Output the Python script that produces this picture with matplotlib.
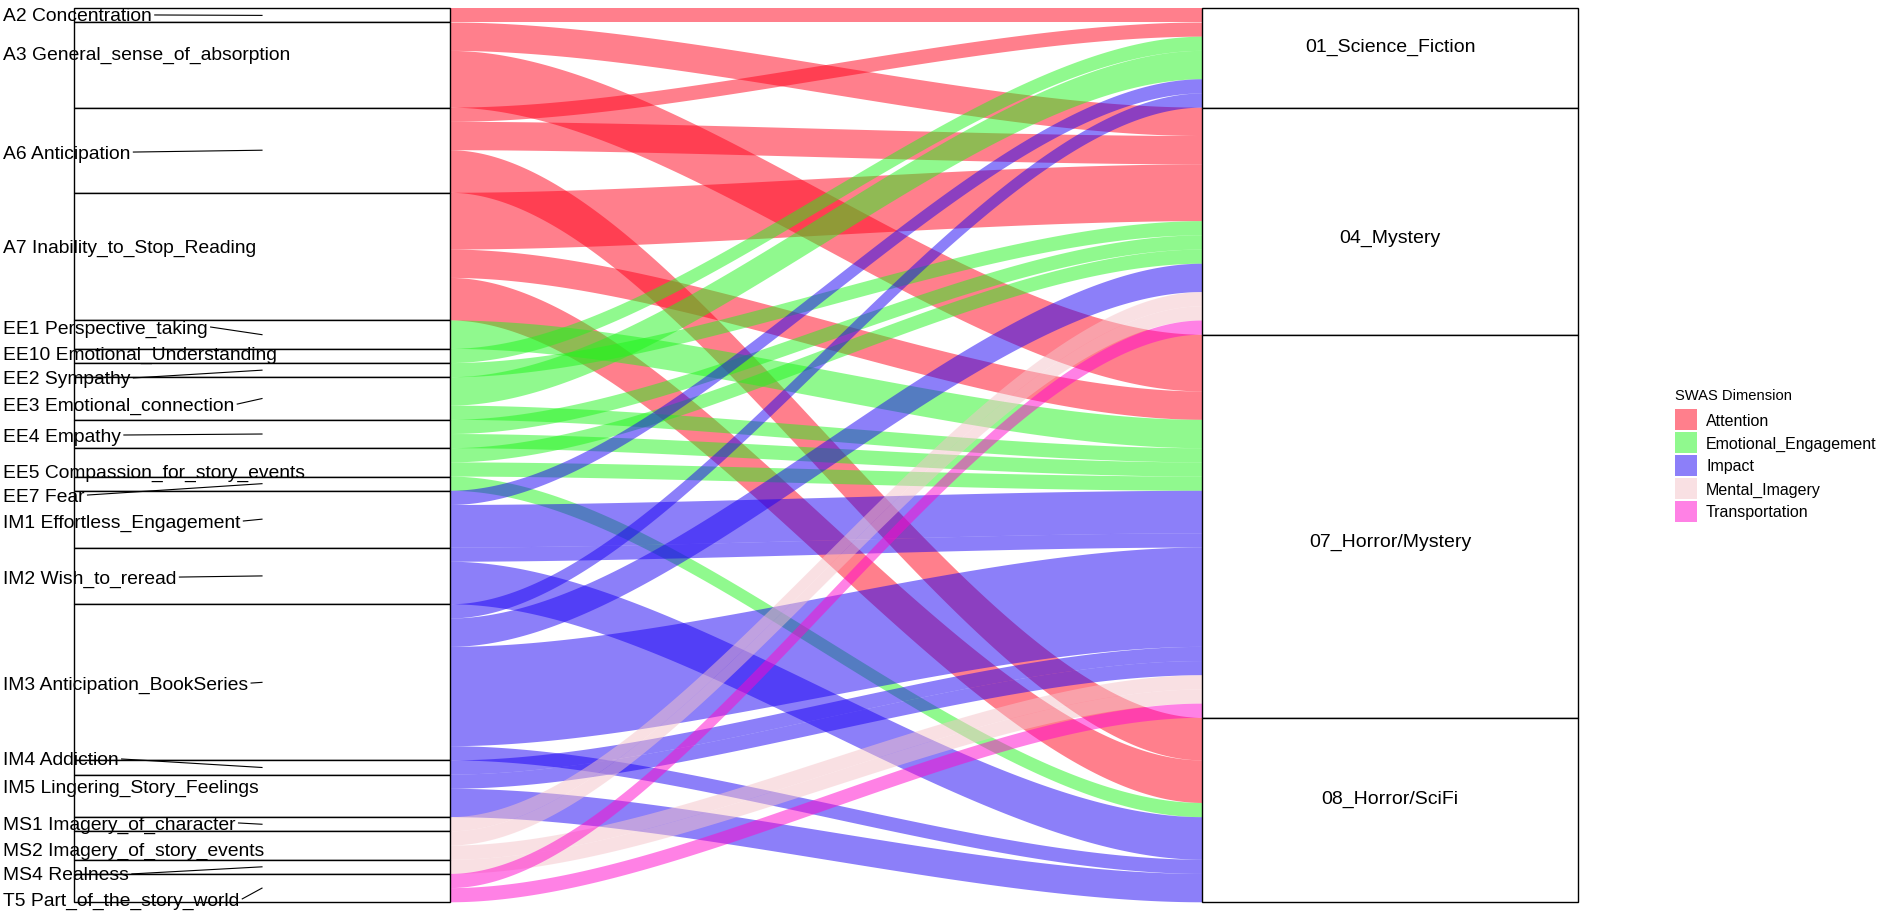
import matplotlib
matplotlib.use("Agg")
import matplotlib.pyplot as plt
import numpy as np
from matplotlib.patches import Rectangle, Polygon

plt.rcParams['font.family'] = ['Liberation Sans', 'DejaVu Sans']

# SWAS items (left axis) and genres (right axis)
items = ["A2 Concentration", "A3 General_sense_of_absorption", "A6 Anticipation",
         "A7 Inability_to_Stop_Reading", "EE1 Perspective_taking", "EE10 Emotional_Understanding",
         "EE2 Sympathy", "EE3 Emotional_connection", "EE4 Empathy",
         "EE5 Compassion_for_story_events", "EE7 Fear", "IM1 Effortless_Engagement",
         "IM2 Wish_to_reread", "IM3 Anticipation_BookSeries", "IM4 Addiction",
         "IM5 Lingering_Story_Feelings", "MS1 Imagery_of_character", "MS2 Imagery_of_story_events",
         "MS4 Realness", "T5 Part_of_the_story_world"]
item_dim = ["Attention"] * 4 + ["Emotional_Engagement"] * 7 + ["Impact"] * 5 + \
           ["Mental_Imagery"] * 3 + ["Transportation"]
genres = ["01_Science_Fiction", "04_Mystery", "07_Horror/Mystery", "08_Horror/SciFi"]

# counts item -> genre
sci_fi = [1, 0, 1, 0, 0, 1, 0, 2, 0, 0, 0, 1, 0, 1, 0, 0, 0, 0, 0, 0]
mystery = [0, 2, 2, 4, 0, 0, 1, 0, 1, 1, 0, 0, 0, 2, 0, 0, 1, 1, 0, 1]
horror_mystery = [0, 4, 0, 2, 2, 0, 0, 1, 1, 1, 0, 3, 1, 7, 1, 1, 0, 1, 1, 1]
horror_scifi = [0, 0, 3, 3, 0, 0, 0, 0, 0, 0, 1, 0, 3, 1, 0, 2, 0, 0, 0, 0]

dimensions = ["Attention", "Emotional_Engagement", "Impact", "Mental_Imagery", "Transportation"]
dim_colors = ["#FF001A", "#22F51E", "#1A00F5", "#F5C3C9", "#FF05CD"]
alpha = 0.5

# label positions (as placed by the repel step in the original)
label_y = [62.53, 59.85, 52.87, 46.25, 40.54, 38.71, 36.95, 35.11, 32.93, 30.39, 28.70,
           26.87, 22.92, 15.45, 10.10, 8.19, 5.59, 3.76, 2.00, 0.24]
genre_label_y = [60.36, 46.90, 25.49, 7.38]

counts = np.array([sci_fi, mystery, horror_mystery, horror_scifi]).T  # items x genres
n_items, n_gen = counts.shape
total = counts.sum()
col = dict(zip(dimensions, dim_colors))

W, H = 1882, 917
fig = plt.figure(figsize=(W / 100, H / 100), dpi=100)
ax = fig.add_axes([0, 0, 1, 1])
ax.axis("off")
px_x = 1128.0
px_y = 894.0 / total
ax.set_xlim(1 - 262 / px_x, 1 + (W - 262) / px_x)
ax.set_ylim(-(H - 902.3) / px_y, total + 8.3 / px_y)

w = 1 / 3
x0, x1 = 1 + w / 2, 2 - w / 2

# left lodes: stacked from top, within item by genre
item_tot = counts.sum(axis=1)
item_top = total - np.concatenate([[0], np.cumsum(item_tot)[:-1]])
left_top = np.zeros_like(counts, dtype=float)
for i in range(n_items):
    y = item_top[i]
    for g in range(n_gen):
        left_top[i, g] = y
        y -= counts[i, g]
# right lodes: within genre by item
gen_tot = counts.sum(axis=0)
gen_top = total - np.concatenate([[0], np.cumsum(gen_tot)[:-1]])
right_top = np.zeros_like(counts, dtype=float)
for g in range(n_gen):
    y = gen_top[g]
    for i in range(n_items):
        right_top[i, g] = y
        y -= counts[i, g]

# flow curve (cubic bezier with flat ends)
t = np.linspace(0, 1, 200)
h = 0.3
L = x1 - x0
bx = x0 + 3 * h * L * t * (1 - t) ** 2 + 3 * (L - h * L) * t ** 2 * (1 - t) + L * t ** 3
bs = 3 * t ** 2 - 2 * t ** 3

for i in range(n_items):
    for g in range(n_gen):
        c = counts[i, g]
        if c == 0:
            continue
        yt = left_top[i, g] + (right_top[i, g] - left_top[i, g]) * bs
        yb = yt - c
        verts = np.vstack([np.column_stack([bx, yt]), np.column_stack([bx[::-1], yb[::-1]])])
        ax.add_patch(Polygon(verts, closed=True, facecolor=col[item_dim[i]], alpha=alpha,
                             edgecolor="none", lw=0))

# strata boxes
for i in range(n_items):
    ax.add_patch(Rectangle((1 - w / 2, item_top[i] - item_tot[i]), w, item_tot[i],
                           facecolor="white", edgecolor="black", lw=1))
for g in range(n_gen):
    ax.add_patch(Rectangle((2 - w / 2, gen_top[g] - gen_tot[g]), w, gen_tot[g],
                           facecolor="white", edgecolor="black", lw=1))
    ax.text(2, genre_label_y[g], genres[g], ha="center", va="center_baseline", fontsize=14)

# item labels with leader segments (short ones are dropped, like ggrepel)
fig.canvas.draw()
renderer = fig.canvas.get_renderer()
lx = ax.get_xlim()[0] + 3 / px_x
for i in range(n_items):
    txt = ax.text(lx, label_y[i], items[i], ha="left", va="center_baseline", fontsize=13.9)
    bb = txt.get_window_extent(renderer=renderer)
    x_end = ax.transData.inverted().transform((bb.x1 + 3, 0))[0]
    yc = item_top[i] - item_tot[i] / 2
    if x_end < 1 - 10 / px_x:
        ax.plot([x_end, 1], [label_y[i], yc], color="black", lw=0.8)

# legend, drawn in figure pixels
def fx(p):
    return p / W


def fy(p):
    return 1 - p / H


fig.text(fx(1675), fy(395), "SWAS Dimension", ha="left", va="center_baseline", fontsize=10.6)
for k, (name, c) in enumerate(zip(dimensions, dim_colors)):
    top = 409 + 23 * k
    fig.patches.append(Rectangle((fx(1675), fy(top + 21)), 22 / W, 21 / H,
                                 transform=fig.transFigure, facecolor=c, alpha=alpha,
                                 edgecolor="none"))
    fig.text(fx(1706), fy(top + 10.5), name, ha="left", va="center_baseline", fontsize=11.5)

fig.savefig("out.png", dpi=100)
